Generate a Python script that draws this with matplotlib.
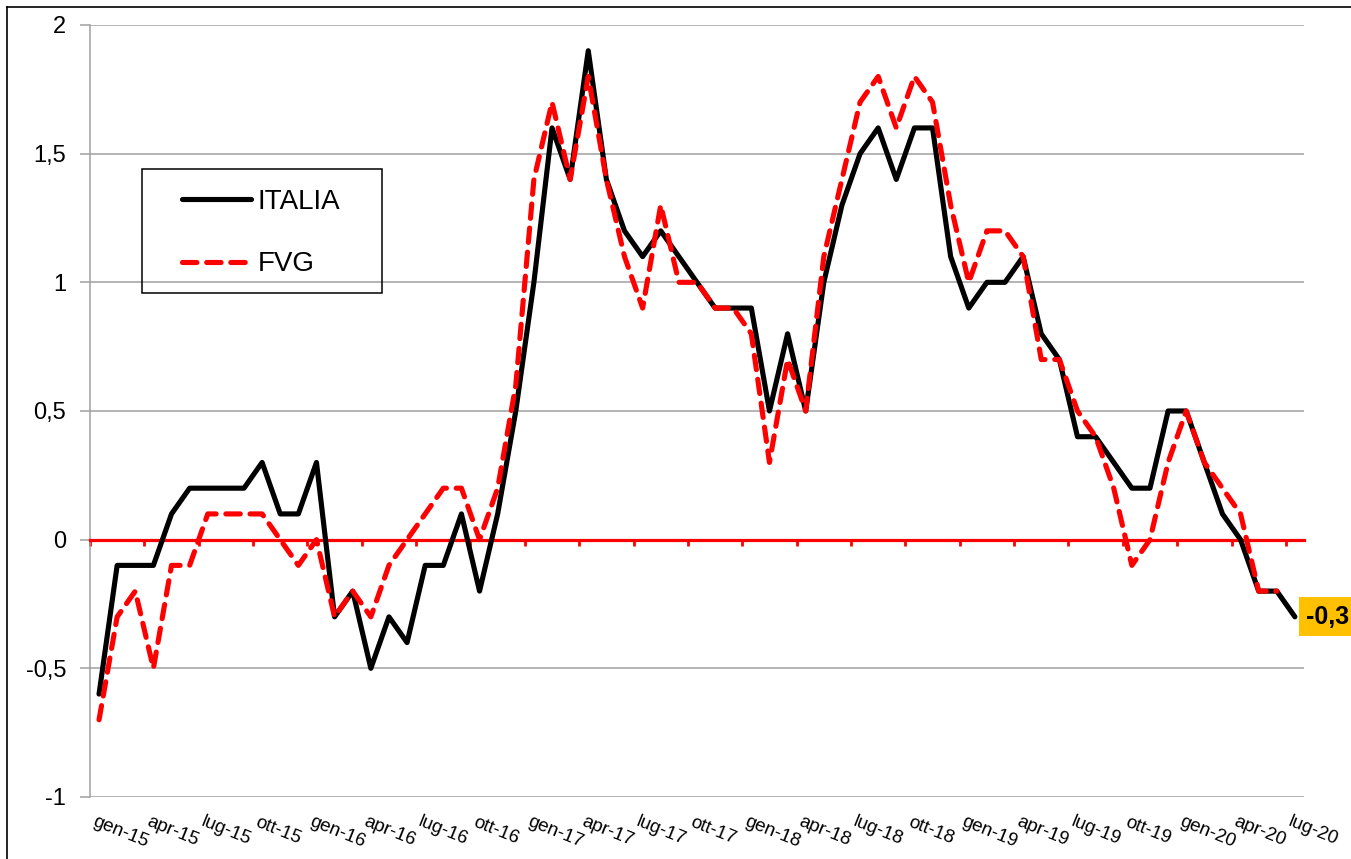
import matplotlib.pyplot as plt
from matplotlib.lines import Line2D
from matplotlib.patches import Rectangle

plt.rcParams['font.family'] = ['Liberation Sans', 'DejaVu Sans']

# etichette asse x (una ogni 3 mesi, da gen-15 a lug-20)
tick_labels = ['gen-15', 'apr-15', 'lug-15', 'ott-15', 'gen-16', 'apr-16', 'lug-16', 'ott-16',
               'gen-17', 'apr-17', 'lug-17', 'ott-17', 'gen-18', 'apr-18', 'lug-18', 'ott-18',
               'gen-19', 'apr-19', 'lug-19', 'ott-19', 'gen-20', 'apr-20', 'lug-20']

# valori mensili
italia = [-0.6, -0.1, -0.1, -0.1, 0.1, 0.2, 0.2, 0.2, 0.2, 0.3, 0.1, 0.1,
          0.3, -0.3, -0.2, -0.5, -0.3, -0.4, -0.1, -0.1, 0.1, -0.2, 0.1, 0.5,
          1.0, 1.6, 1.4, 1.9, 1.4, 1.2, 1.1, 1.2, 1.1, 1.0, 0.9, 0.9,
          0.9, 0.5, 0.8, 0.5, 1.0, 1.3, 1.5, 1.6, 1.4, 1.6, 1.6, 1.1,
          0.9, 1.0, 1.0, 1.1, 0.8, 0.7, 0.4, 0.4, 0.3, 0.2, 0.2, 0.5,
          0.5, 0.3, 0.1, 0.0, -0.2, -0.2, -0.3]
fvg = [-0.7, -0.3, -0.2, -0.5, -0.1, -0.1, 0.1, 0.1, 0.1, 0.1, 0.0, -0.1,
       0.0, -0.3, -0.2, -0.3, -0.1, 0.0, 0.1, 0.2, 0.2, 0.0, 0.2, 0.6,
       1.4, 1.7, 1.4, 1.8, 1.4, 1.1, 0.9, 1.3, 1.0, 1.0, 0.9, 0.9,
       0.8, 0.3, 0.7, 0.5, 1.1, 1.4, 1.7, 1.8, 1.6, 1.8, 1.7, 1.3,
       1.0, 1.2, 1.2, 1.1, 0.7, 0.7, 0.5, 0.4, 0.2, -0.1, 0.0, 0.3,
       0.5, 0.3, 0.2, 0.1, -0.2, -0.2]

y_ticks = [-1, -0.5, 0, 0.5, 1, 1.5, 2]
y_labels = ['-1', '-0,5', '0', '0,5', '1', '1,5', '2']
last_label = '-0,3'

fig = plt.figure(figsize=(13.51, 8.59), dpi=100)
ax = fig.add_axes([0.0666, 0.0722, 0.8986, 0.8987])

x_it = list(range(len(italia)))
x_fvg = list(range(len(fvg)))

ax.plot(x_it, italia, color='black', lw=3.7, solid_joinstyle='round',
        solid_capstyle='round', label='ITALIA', zorder=4)
ax.plot(x_fvg, fvg, color='#FF0000', lw=3.7, dashes=(2.8, 1.9),
        dash_capstyle='round', dash_joinstyle='round', label='FVG', zorder=5)

ax.set_xlim(-0.5, len(italia) - 0.5)
ax.set_ylim(-1, 2)

# griglia e asse y
ax.set_yticks(y_ticks)
ax.set_yticklabels(y_labels)
ax.yaxis.grid(True, color='#A0A0A0', lw=1.1, zorder=0)
ax.set_axisbelow(True)
ax.tick_params(axis='y', length=7, width=1.1, color='#A0A0A0',
               labelsize=17, pad=10)

for s in ['top', 'right']:
    ax.spines[s].set_visible(False)
ax.spines['left'].set_color('#A0A0A0')
ax.spines['left'].set_linewidth(1.1)

# asse x rosso sullo zero, tacche ogni 3 mesi
ax.spines['bottom'].set_position(('data', 0))
ax.spines['bottom'].set_color('#FF0000')
ax.spines['bottom'].set_linewidth(2.3)
ax.spines['bottom'].set_zorder(3)
ax.set_xticks([3 * k - 0.5 for k in range(len(tick_labels))])
ax.tick_params(axis='x', length=4, width=2, color='#FF0000',
               direction='out', labelbottom=False)

for k, lab in enumerate(tick_labels):
    ax.annotate(lab, xy=(3 * k, 0), xycoords=('data', 'axes fraction'),
                xytext=(-2, -12), textcoords='offset points',
                rotation=-22, rotation_mode='anchor', ha='left', va='top',
                fontsize=13.5, annotation_clip=False)

# etichetta ultimo valore
ax.annotate(last_label, xy=(x_it[-1], italia[-1]), xytext=(8, 0),
            textcoords='offset points', ha='left', va='center',
            fontsize=18, fontweight='bold', annotation_clip=False,
            bbox=dict(boxstyle='square,pad=0.3', fc='#FFC000', ec='none'))

# legenda: contenuto senza cornice + riquadro disegnato a parte
leg = ax.legend(loc='upper left', bbox_to_anchor=(0.0758, 0.788),
                borderaxespad=0, borderpad=0, fontsize=20, handlelength=2.5,
                handletextpad=0.22, labelspacing=1.32, frameon=False)
ax.add_patch(Rectangle((0.0428, 0.6529), 0.1977, 0.1606, transform=ax.transAxes,
                       fill=False, ec='black', lw=1.1, zorder=6))

# bordo del grafico
fig.add_artist(Line2D([7 / 1351, 7 / 1351], [0, 1 - 7 / 859], color='black', lw=1.2))
fig.add_artist(Line2D([7 / 1351, 1], [1 - 7 / 859, 1 - 7 / 859], color='black', lw=1.2))

fig.savefig('out.png', dpi=100)
